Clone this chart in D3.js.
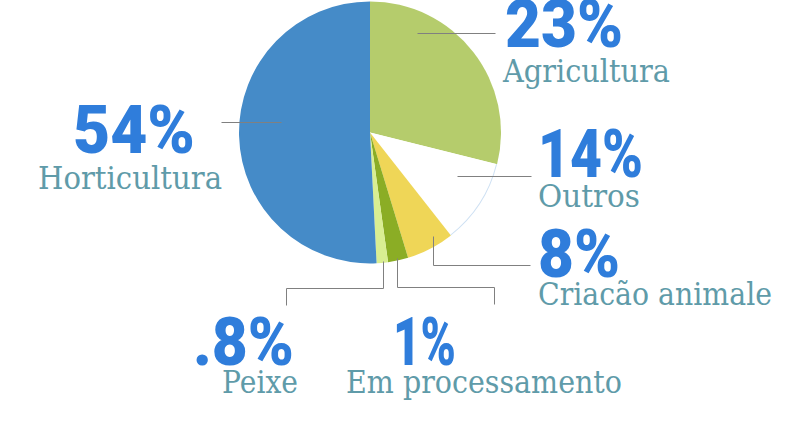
<!DOCTYPE html>
<html><head><meta charset="utf-8">
<script src="https://cdn.jsdelivr.net/npm/d3@7"></script>
<style>html,body{margin:0;padding:0;background:#fff;}svg{display:block;}</style>
</head><body>
<svg id="c" width="795" height="422"></svg>
<script>
// Data (clockwise from 12 o'clock)
const categories = ["Agricultura", "Outros", "Criacão animale", "Em processamento", "Peixe", "Horticultura"];
const sliceValues = [28.9, 10.5, 5.9, 2.5, 1.4, 50.8];
const percentLabels = ["23%", "14%", "8%", "1%", ".8%", "54%"];
const colors = ["#b5cc6c", "#ffffff", "#efd657", "#8bad25", "#d9ee92", "#458bc8"];

// Layout
const cx = 370, cy = 132.5, R = 131;
const labelLayout = [
  {num:[505,47,118], txt:[503,82,167], line:[[417,33],[495,33]]},
  {num:[538,177,105], txt:[538,207,102], line:[[457,176],[531,176]]},
  {num:[538,277,82], txt:[538,305,234], line:[[433,236],[433,265],[530,265]]},
  {num:[393,365,63], txt:[346,393,276], line:[[397,258],[397,287],[494,287],[494,304]]},
  {num:[193,365,101], txt:[222,393,76], line:[[383,261],[383,288],[286,288],[286,305]]},
  {num:[73,153,122], txt:[38,189,184], line:[[221,122],[281,122]]}
];

const svg = d3.select("#c");
const pie = d3.pie().sort(null).value(d => d).startAngle(0).endAngle(2*Math.PI);
const arcs = pie(sliceValues);
const arc = d3.arc().innerRadius(0).outerRadius(R);
const g = svg.append("g").attr("transform", `translate(${cx},${cy})`);
g.selectAll("path.s").data(arcs).join("path").attr("class","s")
  .attr("d", arc).attr("fill", (d,i) => colors[i]);
// faint outline on the white slice
g.append("path").attr("d", d3.arc().innerRadius(R-1).outerRadius(R)(arcs[1])).attr("fill", "#cfe1f3");

const line = d3.line().x(p => p[0] + 0.5).y(p => p[1] + 0.5);
labelLayout.forEach((L, i) => {
  svg.append("path").attr("d", line(L.line)).attr("fill","none")
    .attr("stroke","#808080").attr("stroke-width",1);
  svg.append("text").attr("x", L.num[0]).attr("y", L.num[1])
    .attr("textLength", L.num[2]).attr("lengthAdjust","spacingAndGlyphs")
    .style("font-family","Roboto, 'DejaVu Sans', sans-serif").style("font-weight",900)
    .style("font-size","67px").attr("fill","#2f7ddb").text(percentLabels[i]);
  svg.append("text").attr("x", L.txt[0]).attr("y", L.txt[1])
    .attr("textLength", L.txt[2]).attr("lengthAdjust","spacingAndGlyphs")
    .style("font-family","'DejaVu Serif', serif")
    .style("font-size","32px").attr("fill","#5f9ba9").text(categories[i]);
});
</script>
</body></html>
